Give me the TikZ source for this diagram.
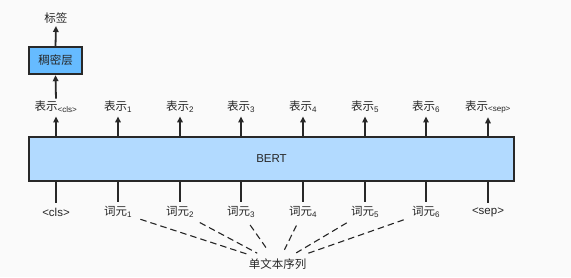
\documentclass[tikz,border=0pt]{standalone}
\usepackage{fontspec}
\setmainfont{Liberation Sans}
\newfontfamily\cjk{Noto Sans CJK SC}
\usepackage{xcolor}
\usetikzlibrary{arrows.meta}

\definecolor{bertblue}{RGB}{178,218,255}
\definecolor{denseblue}{RGB}{102,187,255}
\definecolor{edgegray}{RGB}{40,40,40}
\definecolor{bggray}{RGB}{250,250,250}

\tikzset{
	layerbox/.style={draw=edgegray, line width=1.4pt, inner sep=0pt},
	wordlabel/.style={inner sep=1.5pt, font=\fontsize{11.5}{13}\selectfont, text=black!85},
	uparrow/.style={draw=edgegray, line width=1.8pt, -{Triangle[length=6pt,width=5.5pt]}},
	feedline/.style={draw=edgegray, line width=1.8pt},
	seqline/.style={draw=black!85, line width=1.1pt, dash pattern=on 6.5pt off 4pt, shorten <=7pt, shorten >=8pt}
}

\begin{document}
\begin{tikzpicture}[x=1pt, y=-1pt]
	\fill[bggray] (0,0) rectangle (571,277);
	\useasboundingbox (0,0) rectangle (571,277);

	% BERT und Ausgabeschicht
	\node[layerbox, fill=bertblue, minimum width=485pt, minimum height=44pt, wordlabel] (bert) at (271.5,159) {BERT};
	\node[layerbox, fill=denseblue, minimum width=53pt, minimum height=27pt, wordlabel] (dense) at (55.5,60.5) {\cjk 稠密层};
	\node[wordlabel] (label) at (56,18) {\cjk 标签};

	% Spalten
	\foreach \i/\x/\sub/\tok in {0/56/{<cls>}/{<cls>}, 1/118/1/{{\cjk 词元}\textsubscript{1}}, 2/180/2/{{\cjk 词元}\textsubscript{2}}, 3/241/3/{{\cjk 词元}\textsubscript{3}}, 4/303/4/{{\cjk 词元}\textsubscript{4}}, 5/365/5/{{\cjk 词元}\textsubscript{5}}, 6/426/6/{{\cjk 词元}\textsubscript{6}}, 7/488/{<sep>}/{<sep>}} {
		\node[wordlabel] (rep\i) at (\x,107) {{\cjk 表示}\textsubscript{\sub}};
		\node[wordlabel] (tok\i) at (\x,212) {\tok};
		\draw[uparrow, shorten >=2pt] (rep\i |- bert.north) -- (rep\i.south);
		\draw[feedline, shorten >=3pt] (tok\i |- bert.south) -- (tok\i.north);
	}

	\node[wordlabel] (seq) at (277.5,264) {\cjk 单文本序列};
	\foreach \i in {1,...,6} {
		\draw[seqline] (tok\i) -- (seq);
	}

	\draw[uparrow, shorten <=1pt, shorten >=0.5pt] (rep0.north) -- (dense.south);
	\draw[uparrow, shorten >=1pt] (dense.north) -- (label.south);
\end{tikzpicture}
\end{document}
